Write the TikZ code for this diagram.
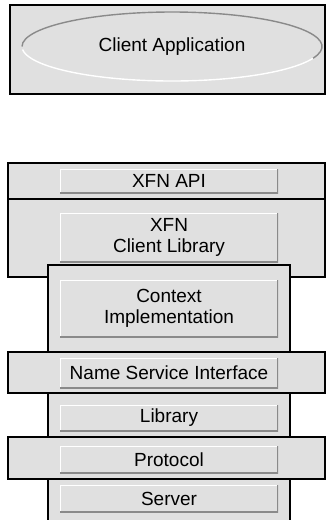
\documentclass[tikz,border=0pt]{standalone}
\usepackage{fontspec}
\setmainfont{Liberation Sans}
\usetikzlibrary{shapes.geometric}
\definecolor{boxfill}{HTML}{E0E0E0}
\definecolor{shadow}{HTML}{8A8A8A}
\tikzset{
  outerbox/.style={draw=black, line width=2.2pt, fill=boxfill, inner sep=0pt, outer sep=0pt},
  innerbox/.style={fill=boxfill, inner sep=0pt, outer sep=0pt, align=center,
    font=\fontsize{19}{21}\selectfont,
    path picture={
      \draw[white, line width=2.4pt] (path picture bounding box.south west) -- (path picture bounding box.north west) -- (path picture bounding box.north east);
      \draw[shadow, line width=2.4pt] (path picture bounding box.north east) -- (path picture bounding box.south east) -- (path picture bounding box.south west);
    }},
  wide/.style={outerbox, minimum width=317pt},
  narrow/.style={outerbox, minimum width=242pt},
  inner/.style={innerbox, minimum width=218pt}
}
\begin{document}
\begin{tikzpicture}[x=1pt, y=-1pt]
\useasboundingbox (0,0) rectangle (326,520);
\clip (0,0) rectangle (326,520);
% client application
\node[outerbox, minimum width=315pt, minimum height=89pt] (app) at (167.5,49.5) {};
\node[ellipse, fill=boxfill, inner sep=0pt, outer sep=0pt, minimum width=300pt, minimum height=69pt,
      font=\fontsize{19}{21}\selectfont] (ca) at (172,46.5) {Client Application};
\draw[shadow, line width=1.4pt] (ca.center) ++(20:150 and 34.5) arc[start angle=20, end angle=-180, x radius=150, y radius=34.5];
\draw[white, line width=1.4pt] (ca.center) ++(20:150 and 34.5) arc[start angle=20, end angle=175, x radius=150, y radius=34.5];
% stack
\node[wide, minimum height=36pt] (apiO) at (166.5,181) {};
\node[inner, minimum height=24pt] (api) at (169,181) {XFN API};
\node[wide, minimum height=78pt] (clO) at (166.5,238) {};
\node[inner, minimum height=49pt] (cl) at (169,237.5) {XFN\\Client Library};
\node[narrow, minimum height=87pt] (ctxO) at (169,308.5) {};
\node[inner, minimum height=57pt] (ctx) at (169,308.5) {Context\\Implementation};
\node[wide, minimum height=41pt] (nsiO) at (166.5,372.5) {};
\node[inner, minimum height=30pt] (nsi) at (169,373) {Name Service Interface};
\node[narrow, minimum height=44pt] (libO) at (169,415) {};
\node[inner, minimum height=26pt] (lib) at (169,418) {Library};
\node[wide, minimum height=42pt] (protO) at (166.5,458) {};
\node[inner, minimum height=27pt] (prot) at (169,459.5) {Protocol};
\node[narrow, minimum height=46pt] (srvO) at (169,502) {};
\node[inner, minimum height=27pt] (srv) at (169,498.5) {Server};
\end{tikzpicture}
\end{document}
